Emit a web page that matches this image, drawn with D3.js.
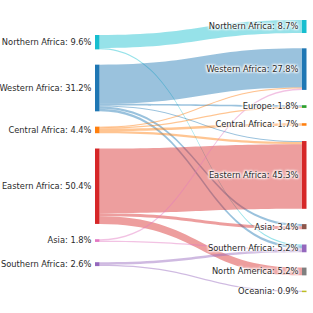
<!DOCTYPE html>
<html>
<head>
<meta charset="utf-8">
<script src="https://cdn.jsdelivr.net/npm/d3@7"></script>
<style>
  html, body { margin: 0; padding: 0; background: #fff; }
  text { font-family: "DejaVu Sans", sans-serif; font-size: 8.3px; fill: #2b2b2b; }
  .lbl { text-shadow: 1px 1px 2px #fff, -1px -1px 2px #fff, 1px -1px 2px #fff, -1px 1px 2px #fff, 0 0 3px #fff; }
</style>
</head>
<body>
<svg id="chart" width="313" height="313"></svg>
<script>
// origin regions (left column)
const sources = ["Northern Africa", "Western Africa", "Central Africa", "Eastern Africa", "Asia", "Southern Africa"];
const sourceShares = [9.6, 31.2, 4.4, 50.4, 1.8, 2.6];
const sourceColors = ["#17becf", "#1f77b4", "#ff7f0e", "#d62728", "#e377c2", "#9467bd"];

// destination regions (right column)
const targets = ["Northern Africa", "Western Africa", "Europe", "Central Africa", "Eastern Africa", "Asia", "Southern Africa", "North America", "Oceania"];
const targetShares = [8.7, 27.8, 1.8, 1.7, 45.3, 3.4, 5.2, 5.2, 0.9];
const targetColors = ["#17becf", "#1f77b4", "#2ca02c", "#ff7f0e", "#d62728", "#8c564b", "#9467bd", "#7f7f7f", "#bcbd22"];

// flows, index into sources -> index into targets, value in %
const flowFrom  = [0, 0, 1, 1, 1, 1, 1, 2, 2, 2, 2, 3, 3, 3, 4, 4, 5, 5];
const flowTo    = [0, 6, 1, 2, 4, 5, 6, 1, 2, 3, 4, 4, 5, 7, 1, 6, 6, 8];
const flowValue = [8.7, 0.9, 26.2, 1.1, 0.7, 1.4, 1.8, 0.6, 0.7, 1.7, 1.4, 43.2, 2.0, 5.2, 1.0, 0.8, 1.7, 0.9];

const svg = d3.select("#chart");
const nodeW = 4.5;
const pad = 15.3;
const x = d3.scaleOrdinal().domain(["src", "tgt"]).range([95, 302]);
const colTop = { src: 35, tgt: 20 };
const k = (292 - colTop.tgt - (targets.length - 1) * pad) / d3.sum(targetShares);
const h = d3.scaleLinear().domain([0, 1]).range([0, k]);

function column(names, shares, colors, side) {
  let y = colTop[side];
  return names.map((name, i) => {
    const n = { name, share: shares[i], color: colors[i], side, x0: x(side), y0: y, y1: y + h(shares[i]) };
    n.x1 = n.x0 + nodeW;
    y = n.y1 + pad;
    return n;
  });
}
const srcNodes = column(sources, sourceShares, sourceColors, "src");
const tgtNodes = column(targets, targetShares, targetColors, "tgt");
// the small last origin sits a bit lower, pulled toward its destinations
srcNodes[srcNodes.length - 1].y0 += 5;
srcNodes[srcNodes.length - 1].y1 += 5;

const links = flowValue.map((v, i) => ({ s: srcNodes[flowFrom[i]], t: tgtNodes[flowTo[i]], value: v, w: h(v) }));

// stack link ends on each node, ordered by the position of the other end
srcNodes.forEach(n => {
  let y = n.y0;
  links.filter(l => l.s === n).sort((a, b) => a.t.y0 - b.t.y0).forEach(l => { l.sy = y; y += l.w; });
});
tgtNodes.forEach(n => {
  let y = n.y0;
  links.filter(l => l.t === n).sort((a, b) => a.s.y0 - b.s.y0).forEach(l => { l.ty = y; y += l.w; });
});

function band(l) {
  const x0 = l.s.x1, x1 = l.t.x0, xm = (x0 + x1) / 2;
  const p = d3.path();
  p.moveTo(x0, l.sy);
  p.bezierCurveTo(xm, l.sy, xm, l.ty, x1, l.ty);
  p.lineTo(x1, l.ty + l.w);
  p.bezierCurveTo(xm, l.ty + l.w, xm, l.sy + l.w, x0, l.sy + l.w);
  p.closePath();
  return p.toString();
}

svg.append("g").selectAll("path").data(links).join("path")
  .attr("d", band)
  .attr("fill", d => d.s.color)
  .attr("fill-opacity", 0.45)
  .attr("stroke", d => d.s.color)
  .attr("stroke-opacity", 0.45)
  .attr("stroke-width", d => d.w < 1 ? 1 - d.w : 0);

const nodes = srcNodes.concat(tgtNodes);
const g = svg.append("g").selectAll("g").data(nodes).join("g");
g.append("rect")
  .attr("x", d => d.x0).attr("y", d => d.y0)
  .attr("width", nodeW).attr("height", d => Math.max(1.5, d.y1 - d.y0))
  .attr("fill", d => d.color);
g.append("text")
  .attr("class", "lbl")
  .attr("x", d => d.x0 - 3.5)
  .attr("y", d => (d.y0 + d.y1) / 2)
  .attr("dy", "0.35em")
  .attr("text-anchor", "end")
  .text(d => `${d.name}: ${d.share}%`);
</script>
</body>
</html>
